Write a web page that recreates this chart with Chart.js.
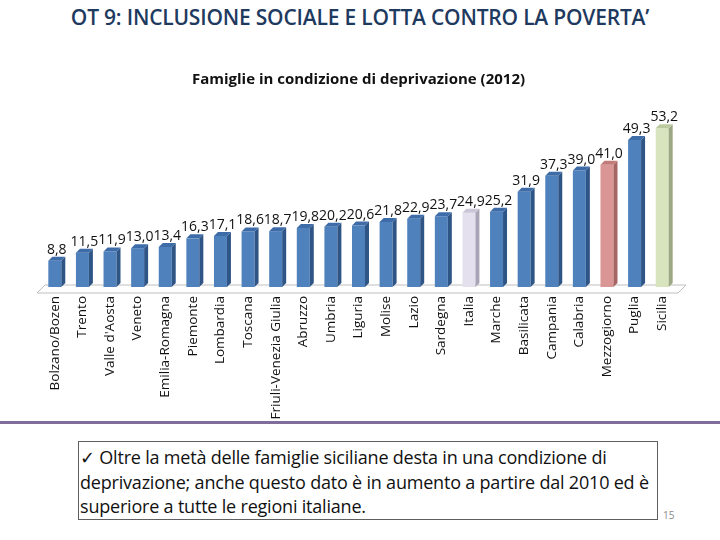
<!DOCTYPE html>
<html>
<head>
<meta charset="utf-8">
<script src="https://cdn.jsdelivr.net/npm/chart.js@4"></script>
<style>
  body { margin: 0; width: 720px; height: 540px; background: #fff; position: relative; overflow: hidden; font-family: "Open Sans", sans-serif; }
  #slideTitle { position: absolute; top: 3px; left: 0; width: 720px; text-align: center; font-size: 21px; color: #1F3A5F; font-weight: 600; letter-spacing: -0.2px; }
  #chartBox { position: absolute; top: 0; left: 0; width: 720px; height: 420px; }
  #rule { position: absolute; top: 421px; left: 0; width: 720px; height: 3px; background: #7E6E99; }
  #note { position: absolute; left: 78px; top: 441px; width: 580px; height: 79px; border: 1px solid #5F5F5F; box-sizing: border-box; padding: 3px 0 0 1px; font-size: 18px; line-height: 24.5px; color: #111; white-space: nowrap; letter-spacing: -0.2px; }
  #pageNo { position: absolute; left: 663px; top: 508px; font-size: 10px; color: #8a8a8a; }
</style>
</head>
<body>
<div id="slideTitle">OT 9: INCLUSIONE SOCIALE E LOTTA CONTRO LA POVERTA’</div>
<div id="chartBox"><canvas id="bar-chart" width="720" height="420"></canvas></div>
<div id="rule"></div>
<div id="note">✓ Oltre la metà delle famiglie siciliane desta in una condizione di<br>deprivazione; anche questo dato è in aumento a partire dal 2010 ed è<br>superiore a tutte le regioni italiane.</div>
<div id="pageNo">15</div>

<script>
let regions = ["Bolzano/Bozen", "Trento", "Valle d'Aosta", "Veneto", "Emilia-Romagna", "Piemonte", "Lombardia",
    "Toscana", "Friuli-Venezia Giulia", "Abruzzo", "Umbria", "Liguria", "Molise", "Lazio", "Sardegna", "Italia",
    "Marche", "Basilicata", "Campania", "Calabria", "Mezzogiorno", "Puglia", "Sicilia"];
let deprivation = [8.8, 11.5, 11.9, 13.0, 13.4, 16.3, 17.1, 18.6, 18.7, 19.8, 20.2, 20.6, 21.8, 22.9, 23.7, 24.9,
    25.2, 31.9, 37.3, 39.0, 41.0, 49.3, 53.2];

// front / side / top shades of each bar
function barShades(name) {
    if (name == "Italia") return ["#E4E0EE", "#A9A5B6", "#CAC5D7"];
    if (name == "Mezzogiorno") return ["#D99694", "#A66462", "#C27B79"];
    if (name == "Sicilia") return ["#D7E4BD", "#9CA883", "#BCCB9F"];
    return ["#4F81BD", "#2F5586", "#3E6CA8"];
}

let fronts = regions.map(r => barShades(r)[0]);

const depth = 4;

const floorPlugin = {
    id: 'floor',
    beforeDatasetsDraw(chart) {
        const a = chart.chartArea;
        const ctx = chart.ctx;
        ctx.save();
        ctx.strokeStyle = "#BFBFBF";
        ctx.lineWidth = 1;
        ctx.beginPath();
        ctx.moveTo(a.left - 4, a.bottom + 6);
        ctx.lineTo(a.left + 4, a.bottom - 2);
        ctx.lineTo(a.right + 10, a.bottom - 2);
        ctx.lineTo(a.right + 2, a.bottom + 6);
        ctx.closePath();
        ctx.stroke();
        ctx.restore();
    }
};

const barsPlugin = {
    id: 'bars3d',
    afterDatasetsDraw(chart) {
        const ctx = chart.ctx;
        const meta = chart.getDatasetMeta(0);
        ctx.save();
        meta.data.forEach((bar, i) => {
            const shades = barShades(regions[i]);
            const half = bar.width / 2;
            const right = bar.x + half;
            const left = bar.x - half;
            // side face
            ctx.fillStyle = shades[1];
            ctx.beginPath();
            ctx.moveTo(right, bar.y);
            ctx.lineTo(right + depth, bar.y - depth);
            ctx.lineTo(right + depth, bar.base - depth);
            ctx.lineTo(right, bar.base);
            ctx.closePath();
            ctx.fill();
            // top face
            ctx.fillStyle = shades[2];
            ctx.beginPath();
            ctx.moveTo(left, bar.y);
            ctx.lineTo(left + depth, bar.y - depth);
            ctx.lineTo(right + depth, bar.y - depth);
            ctx.lineTo(right, bar.y);
            ctx.closePath();
            ctx.fill();
            // value label
            ctx.fillStyle = "#111";
            ctx.font = "14px 'Open Sans'";
            ctx.textAlign = "center";
            ctx.textBaseline = "alphabetic";
            ctx.fillText(deprivation[i].toFixed(1).replace(".", ","), bar.x + 2, bar.y - 7);
        });
        ctx.restore();
    }
};

let ctx = document.getElementById('bar-chart').getContext('2d');
window.myBar = new Chart(ctx, {
    type: 'bar',
    data: {
        labels: regions,
        datasets: [{
            label: 'Famiglie in condizione di deprivazione',
            data: deprivation,
            backgroundColor: fronts,
            borderWidth: 0,
            categoryPercentage: 1,
            barPercentage: 0.47
        }]
    },
    options: {
        responsive: false,
        animation: false,
        layout: { padding: { top: 61, left: 41, right: 44, bottom: 0 } },
        scales: {
            x: {
                grid: { display: false, drawTicks: false },
                border: { display: false },
                ticks: {
                    autoSkip: false,
                    minRotation: 90,
                    maxRotation: 90,
                    padding: 9,
                    color: "#111",
                    font: { family: "Open Sans", size: 13.5 }
                },
                afterFit: (scale) => { scale.height = 133; }
            },
            y: {
                display: false,
                min: 0,
                max: 63
            }
        },
        plugins: {
            legend: { display: false },
            tooltip: { enabled: false },
            title: {
                display: true,
                text: 'Famiglie in condizione di deprivazione (2012)',
                color: "#111",
                font: { family: "Open Sans", size: 15, weight: 'bold' },
                padding: { top: 10, bottom: 10 }
            }
        }
    },
    plugins: [floorPlugin, barsPlugin]
});
</script>
</body>
</html>
